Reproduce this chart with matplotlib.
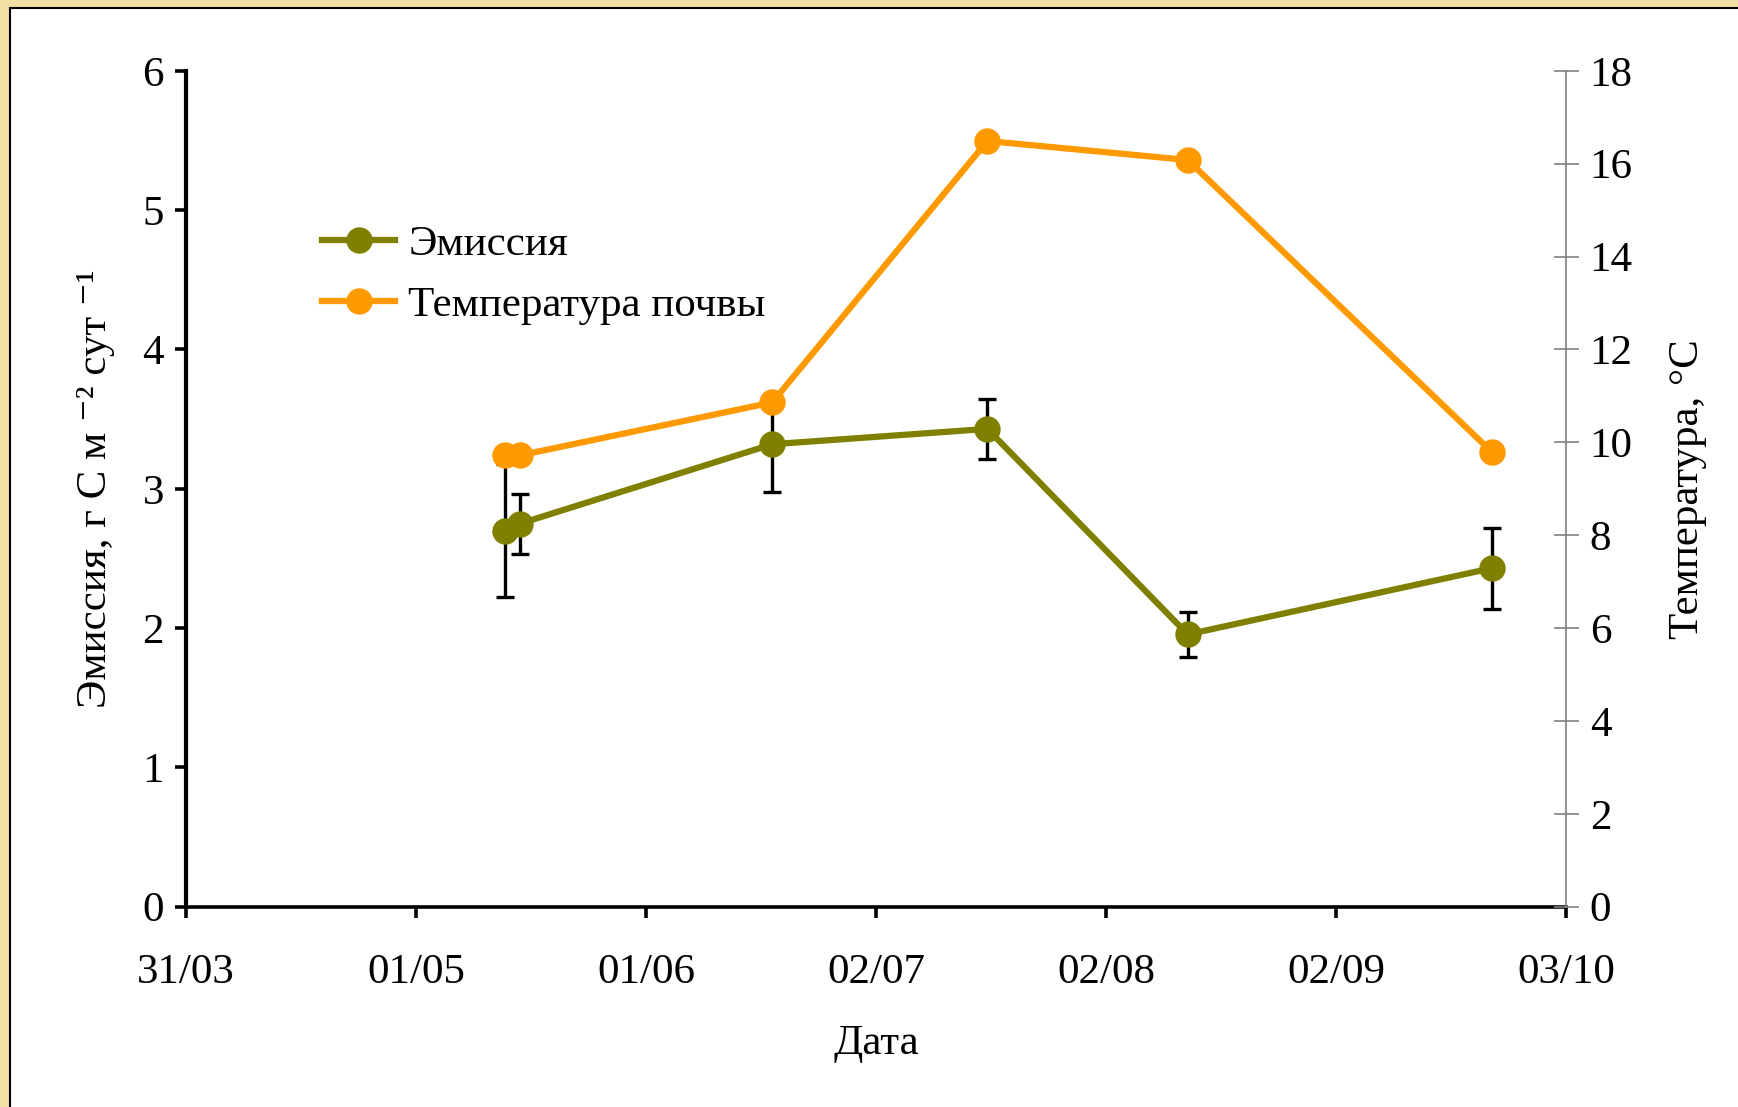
import matplotlib.pyplot as plt
import matplotlib.dates as mdates
from matplotlib.patches import Rectangle
import datetime as dt

plt.rcParams['font.family'] = ['Liberation Serif', 'DejaVu Serif']

dates = ['2012-05-13', '2012-05-15', '2012-06-18', '2012-07-17', '2012-08-13', '2012-09-23']
emission = [2.70, 2.75, 3.32, 3.43, 1.955, 2.43]
emission_err = [0.48, 0.215, 0.34, 0.218, 0.163, 0.29]
soil_temp = [9.72, 9.72, 10.86, 16.49, 16.08, 9.79]

x = [dt.datetime.strptime(d, '%Y-%m-%d') for d in dates]
start = dt.datetime(2012, 3, 31)
ticks = [start + dt.timedelta(days=31 * k) for k in range(7)]

FS = 31

fig = plt.figure(figsize=(17.38, 11.07), dpi=100)
fig.patch.set_facecolor('#f3e0a4')
fig.patches.append(Rectangle((10 / 1738, -0.01), 1.02, 1 - 8 / 1107 + 0.01,
                             transform=fig.transFigure, facecolor='white',
                             edgecolor='black', linewidth=1.5, zorder=-10))

ax = fig.add_axes([0.1071, 0.1809, 0.7940, 0.7551])
ax.patch.set_visible(False)
ax2 = ax.twinx()

# emission with error bars on the left axis, soil temperature on the right
ax.errorbar(x, emission, yerr=emission_err, fmt='none', ecolor='black',
            elinewidth=2.4, capsize=6.5, capthick=2.4, zorder=1)
l1, = ax.plot(x, emission, color='#808000', lw=4.5, marker='o', ms=18,
              label='Эмиссия', zorder=2)
l2, = ax2.plot(x, soil_temp, color='#ff9900', lw=4.5, marker='o', ms=18,
               label='Температура почвы', zorder=3)

ax.set_xlim(ticks[0], ticks[-1])
ax.set_xticks(ticks)
ax.xaxis.set_major_formatter(mdates.DateFormatter('%d/%m'))
ax.set_ylim(0, 6)
ax.set_yticks(range(7))
ax2.set_ylim(0, 18)
ax2.set_yticks(range(0, 19, 2))

ax.spines['top'].set_visible(False)
ax2.spines['top'].set_visible(False)
ax.spines['right'].set_visible(False)
ax2.spines['left'].set_visible(False)
ax2.spines['bottom'].set_visible(False)
ax.spines['left'].set_linewidth(3)
ax.spines['bottom'].set_linewidth(2.6)
ax2.spines['right'].set_linewidth(1.2)
ax2.spines['right'].set_color('#808080')

ax.tick_params(axis='both', direction='out', length=8, width=2.6,
               labelsize=FS, pad=8)
ax.tick_params(axis='x', pad=26)
ax2.tick_params(axis='y', direction='inout', length=18, width=1.2,
                color='#808080', labelsize=FS, pad=8)

ax.set_xlabel('Дата', fontsize=FS, labelpad=23)
ax.set_ylabel('Эмиссия, г С м ⁻² сут ⁻¹', fontsize=FS, labelpad=20)
ax2.set_ylabel('Температура, °С', fontsize=FS, labelpad=26)

ax2.legend([l1, l2], [l1.get_label(), l2.get_label()], loc='upper left',
           bbox_to_anchor=(0.086, 0.836), frameon=False, fontsize=FS,
           handlelength=1.7, handletextpad=0.3, labelspacing=0.5,
           borderaxespad=0)

fig.savefig('out.png', dpi=100, facecolor=fig.get_facecolor())
